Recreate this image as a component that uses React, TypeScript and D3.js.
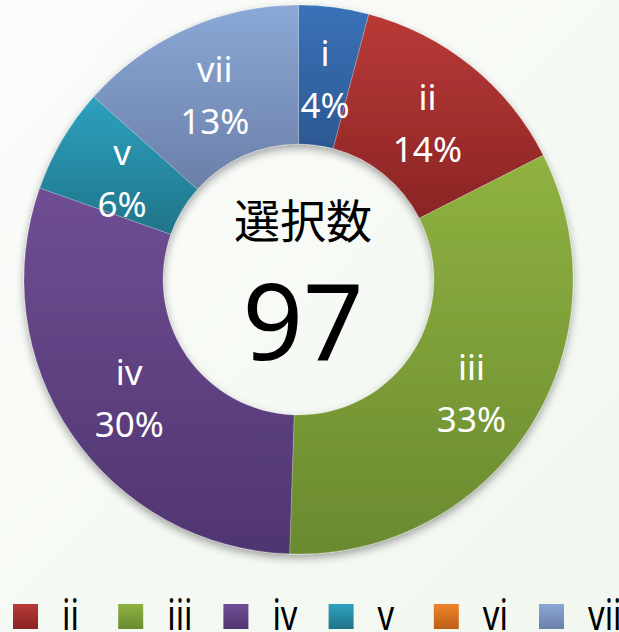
import React from "react";
import * as d3 from "d3";

const categories = ["i", "ii", "iii", "iv", "v", "vi", "vii"];
const counts = [4, 13, 32, 29, 6, 0, 13];
const colorsTop = ["#3a72b8", "#b93a37", "#8fb241", "#6f4e93", "#2ea1bf", "#f0852a", "#8ba8d6"];
const colorsBottom = ["#2c5893", "#8a2424", "#6a8a2f", "#4f3570", "#1f7489", "#bb5e16", "#6a7fa8"];
const centerTitle = "選択数";

const W = 619;
const H = 632;
const CX = 298.5;
const CY = 279.5;
const R_OUT = 274.5;
const R_IN = 135.5;

function largestRemainder(vals: number[]): number[] {
  const total = d3.sum(vals);
  const raw = vals.map((v) => (v / total) * 100);
  const fl = raw.map((r) => Math.floor(r));
  let rem = 100 - d3.sum(fl);
  const order = raw
    .map((r, i) => ({ i, f: r - Math.floor(r) }))
    .sort((a, b) => b.f - a.f || a.i - b.i);
  for (let k = 0; k < order.length && rem > 0; k++, rem--) fl[order[k].i] += 1;
  return fl;
}

export default function App() {
  const total = d3.sum(counts);
  const pcts = largestRemainder(counts);
  const pie = d3
    .pie<number>()
    .sort(null)
    .value((d) => d)
    .startAngle(0)
    .endAngle(Math.PI * 2);
  const arcs = pie(counts);
  const arc = d3.arc<d3.PieArcDatum<number>>().innerRadius(R_IN).outerRadius(R_OUT);
  const labelArc = d3
    .arc<d3.PieArcDatum<number>>()
    .innerRadius((R_IN + R_OUT) / 2)
    .outerRadius((R_IN + R_OUT) / 2);

  const legendItems = categories.map((c, i) => ({ c, i })).filter((d) => d.i > 0);
  const legendX = d3.scaleLinear().domain([0, legendItems.length - 1]).range([13, 539]);

  const font = "'Noto Sans', 'Open Sans', sans-serif";

  return (
    <div style={{ position: "fixed", left: 0, top: 0, width: W, height: H }}>
      <svg width={W} height={H} style={{ display: "block" }}>
        <defs>
          <linearGradient id="bg" x1="0" y1="0" x2="1" y2="1">
            <stop offset="0" stopColor="#fbfcfa" />
            <stop offset="1" stopColor="#f1f7ef" />
          </linearGradient>
          {categories.map((c, i) => (
            <linearGradient key={c} id={`g${i}`} x1="0" y1="0" x2="0" y2="1">
              <stop offset="0" stopColor={colorsTop[i]} />
              <stop offset="1" stopColor={colorsBottom[i]} />
            </linearGradient>
          ))}
          <filter id="shadow" x="-20%" y="-20%" width="140%" height="140%">
            <feDropShadow dx="0" dy="4" stdDeviation="4" floodColor="#000" floodOpacity="0.35" />
          </filter>
        </defs>
        <rect x={0} y={0} width={W} height={H} fill="url(#bg)" />
        <g transform={`translate(${CX},${CY})`}>
          <g filter="url(#shadow)">
            {arcs.map((a, i) =>
              a.value > 0 ? (
                <path
                  key={i}
                  d={arc(a) || ""}
                  fill={`url(#g${i})`}
                  stroke="rgba(255,255,255,0.35)"
                  strokeWidth={0.6}
                />
              ) : null
            )}
          </g>
          {arcs.map((a, i) => {
            if (a.value <= 0) return null;
            const [lx, ly] = labelArc.centroid(a);
            return (
              <g key={`l${i}`} fontFamily={font} fontSize={35} fill="#fff" textAnchor="middle">
                <text x={lx} y={ly - 10}>{categories[i]}</text>
                <text x={lx} y={ly + 42}>{`${pcts[i]}%`}</text>
              </g>
            );
          })}
          <text
            x={4.5}
            y={-41.5}
            textAnchor="middle"
            fontFamily="'Noto Sans CJK JP', sans-serif"
            fontSize={46}
            fill="#000"
          >
            {centerTitle}
          </text>
          <text x={4.5} y={80.5} textAnchor="middle" fontFamily={font} fontSize={106} fill="#000">
            {total}
          </text>
        </g>
        <g>
          {legendItems.map((d, k) => {
            const x = legendX(k);
            return (
              <g key={d.c}>
                <rect x={x} y={604} width={25} height={25} fill={`url(#g${d.i})`} />
                <text
                  transform={`translate(${x + 49},630) scale(0.78,1)`}
                  fontFamily={font}
                  fontSize={42}
                  fill="#000"
                >
                  {d.c}
                </text>
              </g>
            );
          })}
        </g>
      </svg>
    </div>
  );
}
